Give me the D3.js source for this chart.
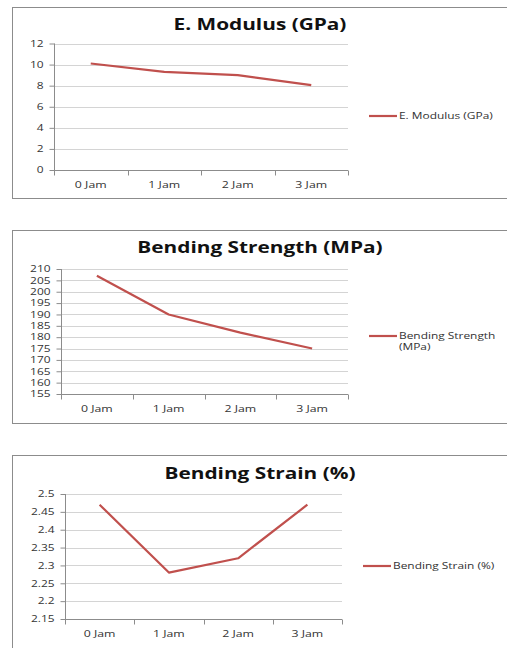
<!DOCTYPE html>
<html><head><meta charset="utf-8">
<script src="https://cdn.jsdelivr.net/npm/d3@7/dist/d3.min.js"></script>
<style>body{margin:0;background:#fff}svg{display:block}</style>
</head><body>
<svg id="c" width="507" height="648"></svg>
<script>
const categories = ["0 Jam", "1 Jam", "2 Jam", "3 Jam"];
const modulusValues = [10.1, 9.3, 9.0, 8.05];
const strengthValues = [207, 190, 182, 175];
const strainValues = [2.47, 2.28, 2.32, 2.47];
const modulusTicks = [0, 2, 4, 6, 8, 10, 12];
const strengthTicks = [155, 160, 165, 170, 175, 180, 185, 190, 195, 200, 205, 210];
const strainTicks = [2.15, 2.2, 2.25, 2.3, 2.35, 2.4, 2.45, 2.5];

const charts = [
  {title: "E. Modulus (GPa)", legend: ["E. Modulus (GPa)"], values: modulusValues, ticks: modulusTicks, fmt: d3.format("d"),
   frame: [7, 198], x0: 54, x1: 348, yTop: 43.5, yBot: 170, titleY: 30, legX: 369, legY: 116},
  {title: "Bending Strength (MPa)", legend: ["Bending Strength", "(MPa)"], values: strengthValues, ticks: strengthTicks, fmt: d3.format("d"),
   frame: [230, 423], x0: 61, x1: 348, yTop: 269, yBot: 394, titleY: 253, legX: 369, legY: 336},
  {title: "Bending Strain (%)", legend: ["Bending Strain (%)"], values: strainValues, ticks: strainTicks, fmt: d => String(+d.toFixed(2)),
   frame: [455, 670], x0: 65, x1: 342, yTop: 494, yBot: 619, titleY: 479, legX: 363, legY: 566}
];

const svg = d3.select("#c");
const red = "#c0504d";
const font = "'Open Sans', sans-serif";

function stretch(sel, f) {
  sel.each(function() {
    const w = this.getComputedTextLength();
    this.setAttribute("textLength", (w * f).toFixed(2));
    this.setAttribute("lengthAdjust", "spacingAndGlyphs");
  });
}

charts.forEach(c => {
  const g = svg.append("g");
  g.append("rect").attr("x", 12.5).attr("y", c.frame[0] + 0.5).attr("width", 510).attr("height", c.frame[1] - c.frame[0])
    .attr("fill", "#fff").attr("stroke", "#8c8c8c").attr("stroke-width", 1);

  const x = d3.scaleBand().domain(categories).range([c.x0, c.x1]).padding(0);
  const y = d3.scaleLinear().domain(d3.extent(c.ticks)).range([c.yBot, c.yTop]);

  g.selectAll(".grid").data(c.ticks).join("line")
    .attr("x1", c.x0).attr("x2", c.x1)
    .attr("y1", d => Math.round(y(d)) + 0.5).attr("y2", d => Math.round(y(d)) + 0.5)
    .attr("stroke", "#d4d4d4").attr("stroke-width", 1);

  const ya = g.append("g").attr("transform", `translate(${c.x0 + 0.5},0)`)
    .call(d3.axisLeft(y).tickValues(c.ticks).tickFormat(c.fmt).tickSize(5).tickPadding(6));
  ya.select(".domain").attr("stroke", "#8c8c8c").attr("d", `M0,${c.yTop}V${c.yBot}`);
  ya.selectAll(".tick line").attr("stroke", "#8c8c8c");
  ya.selectAll(".tick text").attr("font-family", font).attr("font-size", 8.5).attr("fill", "#333").call(stretch, 1.4);

  const xa = g.append("g").attr("transform", `translate(0,${Math.round(c.yBot) + 0.5})`);
  xa.append("line").attr("x1", c.x0).attr("x2", c.x1).attr("stroke", "#8c8c8c");
  const bounds = categories.map(d => x(d)).concat([c.x1]);
  xa.selectAll(".xt").data(bounds).join("line")
    .attr("x1", d => Math.round(d) + 0.5).attr("x2", d => Math.round(d) + 0.5).attr("y1", 0).attr("y2", 5)
    .attr("stroke", "#8c8c8c");
  xa.selectAll(".xl").data(categories).join("text")
    .attr("x", d => x(d) + x.bandwidth() / 2).attr("y", 17)
    .attr("text-anchor", "middle").attr("font-family", font).attr("font-size", 8.5).attr("fill", "#333")
    .text(d => d).call(stretch, 1.45);

  const line = d3.line().x((d, i) => x(categories[i]) + x.bandwidth() / 2).y(d => y(d));
  g.append("path").datum(c.values).attr("d", line).attr("fill", "none")
    .attr("stroke", red).attr("stroke-width", 2.2).attr("stroke-linejoin", "round");

  g.append("text").attr("x", 260).attr("y", c.titleY).attr("text-anchor", "middle")
    .attr("font-family", font).attr("font-weight", "bold").attr("font-size", 16).attr("fill", "#111")
    .text(c.title).call(stretch, 1.3);

  g.append("line").attr("x1", c.legX).attr("x2", c.legX + 28).attr("y1", c.legY).attr("y2", c.legY)
    .attr("stroke", red).attr("stroke-width", 2.2);
  c.legend.forEach((t, i) => {
    g.append("text").attr("x", c.legX + 30).attr("y", c.legY + 3 + i * 11)
      .attr("font-family", font).attr("font-size", 8.5).attr("fill", "#333").text(t).call(stretch, 1.4);
  });
});
</script>
</body></html>
